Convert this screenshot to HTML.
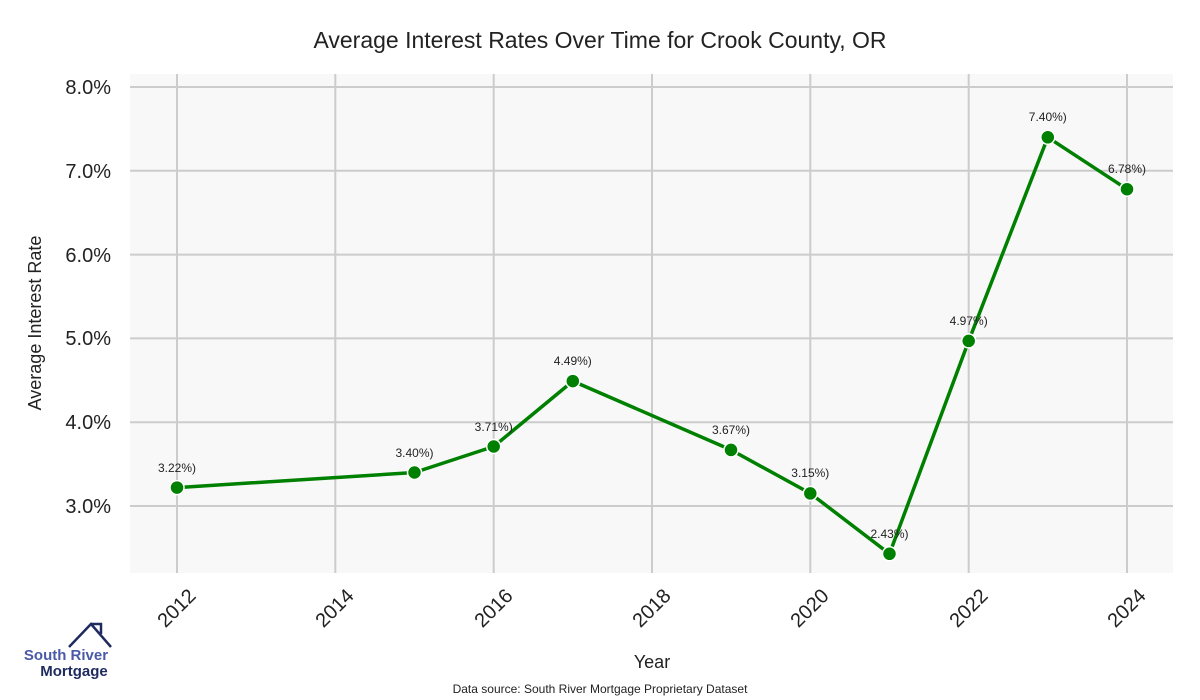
<!DOCTYPE html>
<html><head><meta charset="utf-8"><style>
body{margin:0;background:#fff;}
svg{display:block;font-family:"Liberation Sans",sans-serif;}
</style></head><body>
<svg width="1200" height="700" viewBox="0 0 1200 700" xmlns="http://www.w3.org/2000/svg">
<rect width="1200" height="700" fill="#fff"/>
<rect x="130" y="74" width="1043" height="499" fill="#f8f8f8"/>
<g stroke="#cccccc" stroke-width="2">
<line x1="130" x2="1173" y1="87" y2="87"/>
<line x1="130" x2="1173" y1="170.8" y2="170.8"/>
<line x1="130" x2="1173" y1="254.6" y2="254.6"/>
<line x1="130" x2="1173" y1="338.4" y2="338.4"/>
<line x1="130" x2="1173" y1="422.2" y2="422.2"/>
<line x1="130" x2="1173" y1="506" y2="506"/>
<line y1="74" y2="573" x1="177" x2="177"/>
<line y1="74" y2="573" x1="335.3" x2="335.3"/>
<line y1="74" y2="573" x1="493.7" x2="493.7"/>
<line y1="74" y2="573" x1="652" x2="652"/>
<line y1="74" y2="573" x1="810.3" x2="810.3"/>
<line y1="74" y2="573" x1="968.7" x2="968.7"/>
<line y1="74" y2="573" x1="1127" x2="1127"/>
</g>
<text x="600" y="48" text-anchor="middle" font-size="23" fill="#222">Average Interest Rates Over Time for Crook County, OR</text>
<g font-size="20" fill="#222" text-anchor="end">
<text x="111" y="94">8.0%</text>
<text x="111" y="178">7.0%</text>
<text x="111" y="262">6.0%</text>
<text x="111" y="345">5.0%</text>
<text x="111" y="429">4.0%</text>
<text x="111" y="513">3.0%</text>
</g>
<text transform="translate(41,323) rotate(-90)" text-anchor="middle" font-size="18" fill="#222">Average Interest Rate</text>
<g font-size="20" fill="#222" text-anchor="end">
<text transform="translate(197,597) rotate(-45)">2012</text>
<text transform="translate(355,597) rotate(-45)">2014</text>
<text transform="translate(514,597) rotate(-45)">2016</text>
<text transform="translate(672,597) rotate(-45)">2018</text>
<text transform="translate(830,597) rotate(-45)">2020</text>
<text transform="translate(989,597) rotate(-45)">2022</text>
<text transform="translate(1147,597) rotate(-45)">2024</text>
</g>
<text x="652" y="668" text-anchor="middle" font-size="18" fill="#222">Year</text>
<text x="600" y="693" text-anchor="middle" font-size="12" fill="#222">Data source: South River Mortgage Proprietary Dataset</text>
<polyline fill="none" stroke="#008000" stroke-width="3.5" stroke-linejoin="round" points="177,487.6 414.5,472.5 493.7,446.5 572.8,381.1 731,449.9 810.3,493.4 889.5,553.8 968.7,340.9 1047.8,137.3 1127,189.2"/>
<g fill="#008000" stroke="#fff" stroke-width="1.5">
<circle cx="177" cy="487.6" r="7"/><circle cx="414.5" cy="472.5" r="7"/><circle cx="493.7" cy="446.5" r="7"/><circle cx="572.8" cy="381.1" r="7"/><circle cx="731" cy="449.9" r="7"/><circle cx="810.3" cy="493.4" r="7"/><circle cx="889.5" cy="553.8" r="7"/><circle cx="968.7" cy="340.9" r="7"/><circle cx="1047.8" cy="137.3" r="7"/><circle cx="1127" cy="189.2" r="7"/>
</g>
<g font-size="12" fill="#222" text-anchor="middle">
<text x="177" y="472">3.22%)</text>
<text x="414.5" y="457">3.40%)</text>
<text x="493.7" y="431">3.71%)</text>
<text x="572.8" y="365">4.49%)</text>
<text x="731" y="434">3.67%)</text>
<text x="810.3" y="477">3.15%)</text>
<text x="889.5" y="538">2.43%)</text>
<text x="968.7" y="325">4.97%)</text>
<text x="1047.8" y="121">7.40%)</text>
<text x="1127" y="173">6.78%)</text>
</g>
<polyline fill="none" stroke="#1f2a5e" stroke-width="2.5" points="69,647 91,624 111,647"/>
<polyline fill="none" stroke="#1f2a5e" stroke-width="2.5" points="91,624 101,624 101,634"/>
<text x="66" y="660" text-anchor="middle" font-size="15" font-weight="bold" fill="#4a5aa8">South River</text>
<text x="74" y="676" text-anchor="middle" font-size="15" font-weight="bold" fill="#1f2a5e">Mortgage</text>
</svg>
</body></html>
